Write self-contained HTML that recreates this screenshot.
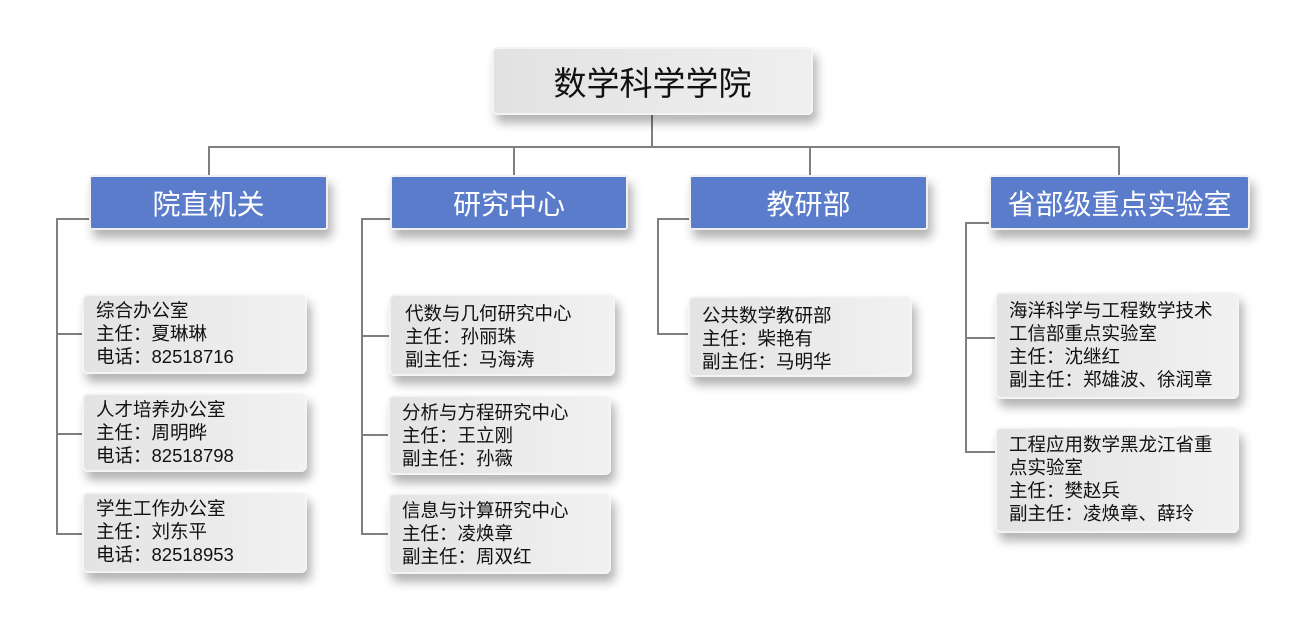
<!DOCTYPE html>
<html><head><meta charset="utf-8"><style>
*{box-sizing:border-box}
body{margin:0;width:1298px;height:621px;background:#fff;position:relative;overflow:hidden;font-family:"Liberation Sans","Noto Sans CJK SC",sans-serif;}
.l{position:absolute;background:#7f7f7f;}
.h{height:1.5px}.v{width:1.5px}
.top{position:absolute;left:492px;top:47px;width:321px;height:68px;border:2px solid #f4f4f4;border-radius:5px;background:linear-gradient(90deg,#e2e2e2,#efefef);box-shadow:4px 8px 10px rgba(0,0,0,.3);font-size:33px;color:#111;display:flex;align-items:center;justify-content:center;}
.cat{position:absolute;top:175px;height:55px;border:2px solid #f0f0f0;border-radius:3px;background:#5a7ccb;box-shadow:4px 8px 10px rgba(0,0,0,.3);font-size:28px;color:#fff;display:flex;align-items:center;justify-content:center;}
.leaf{position:absolute;border:2px solid #f4f4f4;border-radius:6px;background:linear-gradient(90deg,#e3e3e3,#f1f1f1);box-shadow:4px 8px 10px rgba(0,0,0,.3);font-size:18.5px;line-height:23px;color:#111;padding:3px 0 0 12px;}
</style></head><body>
<div class="l v" style="left:651px;top:113px;height:35px"></div>
<div class="l h" style="left:208px;top:146px;width:911px"></div>
<div class="l v" style="left:208px;top:146px;height:30px"></div>
<div class="l v" style="left:513px;top:146px;height:30px"></div>
<div class="l v" style="left:809px;top:146px;height:30px"></div>
<div class="l v" style="left:1118px;top:146px;height:30px"></div>

<div class="l v" style="left:56px;top:218px;height:316px"></div>
<div class="l h" style="left:56px;top:218px;width:34px"></div>
<div class="l h" style="left:56px;top:333px;width:27px"></div>
<div class="l h" style="left:56px;top:433px;width:27px"></div>
<div class="l h" style="left:56px;top:533px;width:27px"></div>

<div class="l v" style="left:361px;top:218px;height:316px"></div>
<div class="l h" style="left:361px;top:218px;width:30px"></div>
<div class="l h" style="left:361px;top:335px;width:28px"></div>
<div class="l h" style="left:361px;top:434px;width:28px"></div>
<div class="l h" style="left:361px;top:533px;width:28px"></div>

<div class="l v" style="left:657px;top:218px;height:116px"></div>
<div class="l h" style="left:657px;top:218px;width:33px"></div>
<div class="l h" style="left:657px;top:333px;width:32px"></div>

<div class="l v" style="left:965px;top:222px;height:229px"></div>
<div class="l h" style="left:965px;top:222px;width:25px"></div>
<div class="l h" style="left:965px;top:337px;width:31px"></div>
<div class="l h" style="left:965px;top:451px;width:31px"></div>

<div class="top">数学科学学院</div>
<div class="cat" style="left:89px;width:239px">院直机关</div>
<div class="cat" style="left:390px;width:238px">研究中心</div>
<div class="cat" style="left:689px;width:239px">教研部</div>
<div class="cat" style="left:989px;width:261px">省部级重点实验室</div>

<div class="leaf" style="left:82px;top:294px;width:225px;height:80px">综合办公室<br>主任：夏琳琳<br>电话：82518716</div>
<div class="leaf" style="left:82px;top:393px;width:225px;height:79px">人才培养办公室<br>主任：周明晔<br>电话：82518798</div>
<div class="leaf" style="left:82px;top:492px;width:225px;height:81px">学生工作办公室<br>主任：刘东平<br>电话：82518953</div>

<div class="leaf" style="left:389px;top:294px;width:226px;height:82px;padding-left:14px;padding-top:6px">代数与几何研究中心<br>主任：孙丽珠<br>副主任：马海涛</div>
<div class="leaf" style="left:388px;top:395px;width:223px;height:80px;padding-top:4px">分析与方程研究中心<br>主任：王立刚<br>副主任：孙薇</div>
<div class="leaf" style="left:388px;top:493px;width:223px;height:81px;padding-top:4px">信息与计算研究中心<br>主任：凌焕章<br>副主任：周双红</div>

<div class="leaf" style="left:688px;top:296px;width:224px;height:81px;padding-top:6px">公共数学教研部<br>主任：柴艳有<br>副主任：马明华</div>

<div class="leaf" style="left:995px;top:292px;width:244px;height:107px;padding-top:5px">海洋科学与工程数学技术<br>工信部重点实验室<br>主任：沈继红<br>副主任：郑雄波、徐润章</div>
<div class="leaf" style="left:995px;top:427px;width:244px;height:106px;padding-top:4px">工程应用数学黑龙江省重<br>点实验室<br>主任：樊赵兵<br>副主任：凌焕章、薛玲</div>
</body></html>
